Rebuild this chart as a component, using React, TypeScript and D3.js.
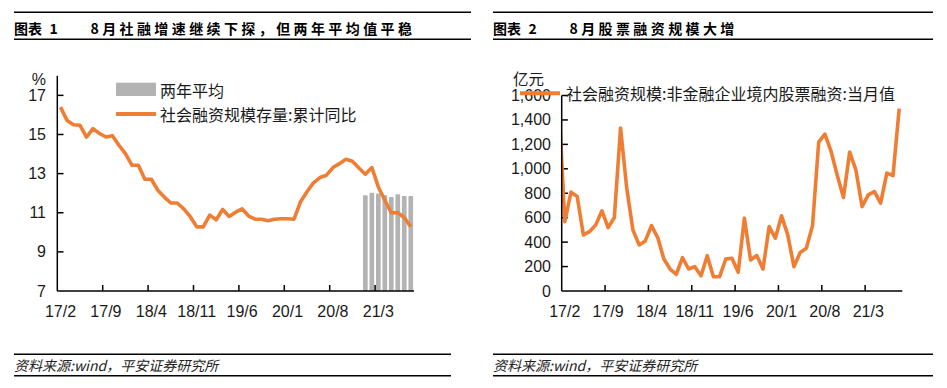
import React from "react";
import * as d3 from "d3";

// ---------- data ----------
const months = [
  "17/2","17/3","17/4","17/5","17/6","17/7","17/8","17/9","17/10","17/11","17/12",
  "18/1","18/2","18/3","18/4","18/5","18/6","18/7","18/8","18/9","18/10","18/11","18/12",
  "19/1","19/2","19/3","19/4","19/5","19/6","19/7","19/8","19/9","19/10","19/11","19/12",
  "20/1","20/2","20/3","20/4","20/5","20/6","20/7","20/8","20/9","20/10","20/11","20/12",
  "21/1","21/2","21/3","21/4","21/5","21/6","21/7","21/8",
];
const tickLabels = ["17/2", "17/9", "18/4", "18/11", "19/6", "20/1", "20/8", "21/3"];

// 社会融资规模存量:累计同比 (%)
const ssfStockYoY = [
  16.4, 15.72, 15.5, 15.47, 14.87, 15.3, 15.05, 14.87, 14.94, 14.45, 14.02,
  13.43, 13.43, 12.71, 12.71, 12.15, 11.8, 11.5, 11.5, 11.2, 10.8, 10.28, 10.28,
  10.88, 10.64, 11.17, 10.81, 11.03, 11.2, 10.83, 10.67, 10.67, 10.59, 10.67, 10.69,
  10.69, 10.67, 11.56, 12.07, 12.53, 12.8, 12.92, 13.31, 13.51, 13.73, 13.63, 13.29,
  12.97, 13.31, 12.32, 11.64, 11.0, 11.0, 10.76, 10.28,
];
// 两年平均 (%)
const twoYearMonths = ["21/1", "21/2", "21/3", "21/4", "21/5", "21/6", "21/7", "21/8"];
const twoYearAvg = [11.9, 12.02, 11.98, 11.9, 11.81, 11.95, 11.85, 11.85];

// 非金融企业境内股票融资:当月值 (亿元)
const equityPrevMonth = 1570; // 17/1, off the left edge of the axis
const equityMonthly = [
  568, 809, 773, 459, 486, 541, 656, 519, 601, 1334, 842,
  500, 377, 410, 535, 437, 262, 180, 137, 273, 180, 199, 125,
  289, 117, 117, 262, 268, 153, 596, 254, 290, 180, 527, 432,
  615, 459, 199, 314, 350, 535, 1219, 1284, 1142, 945, 765, 1137,
  992, 691, 787, 814, 719, 965, 945, 1492,
];

const leftYTicks = [7, 9, 11, 13, 15, 17];
const rightYTicks = [0, 200, 400, 600, 800, 1000, 1200, 1400, 1600];

// ---------- style ----------
const ORANGE = "#EF7D33";
const GREY = "#B3B3B3";
const CJK = "'Noto Sans CJK SC', 'Noto Sans', sans-serif";
const NUM = "'Liberation Sans', Arial, sans-serif";
const TXT = "#1a1a1a";

function fmt(v: number) {
  return d3.format(",")(v);
}

function Header({ x0, x1, num, title }: { x0: number; x1: number; num: string; title: string }) {
  return (
    <g>
      <line x1={x0} x2={x1} y1={12.3} y2={12.3} stroke="#000" strokeWidth={1.5} />
      <line x1={x0} x2={x1} y1={39.3} y2={39.3} stroke="#000" strokeWidth={1.5} />
      <text x={x0} y={27.5} fontFamily={CJK} fontWeight="bold" fontSize={14} dominantBaseline="central" fill="#000">图表</text>
      <text x={x0 + 35.5} y={27.5} fontFamily={CJK} fontWeight="bold" fontSize={14} dominantBaseline="central" fill="#000">{num}</text>
      <text x={x0 + 76.5} y={27.5} fontFamily={CJK} fontWeight="bold" fontSize={14} letterSpacing={3.4} dominantBaseline="central" fill="#000">{title}</text>
    </g>
  );
}

function Footer({ x0, x1 }: { x0: number; x1: number }) {
  return (
    <g>
      <line x1={x0} x2={x1} y1={354.3} y2={354.3} stroke="#000" strokeWidth={1.5} />
      <line x1={x0} x2={x1} y1={375.7} y2={375.7} stroke="#000" strokeWidth={1.5} />
      <text x={x0} y={365} fontFamily={CJK} fontStyle="italic" fontSize={14} dominantBaseline="central" fill="#222">
        资料来源:wind，平安证券研究所
      </text>
    </g>
  );
}

function LeftChart() {
  const x = d3.scaleBand<string>().domain(months).range([57.3, 414]);
  const bw = x.bandwidth();
  const y = d3.scaleLinear().domain([7, 18]).range([291, 75.8]);
  const line = d3
    .line<number>()
    .x((_, i) => (x(months[i]) as number) + bw / 2)
    .y((d) => y(d));
  return (
    <g>
      {twoYearMonths.map((m, j) => (
        <rect
          key={m}
          x={(x(m) as number) + bw * 0.14}
          width={bw * 0.72}
          y={y(twoYearAvg[j])}
          height={y(7) - y(twoYearAvg[j])}
          fill={GREY}
          rx={1}
        />
      ))}
      <path d={line(ssfStockYoY) || ""} fill="none" stroke={ORANGE} strokeWidth={3.6} strokeLinejoin="round" />
      {/* axes */}
      <line x1={57.3} x2={57.3} y1={y(18)} y2={y(7)} stroke="#000" strokeWidth={1.5} />
      <line x1={57.3} x2={414} y1={y(7)} y2={y(7)} stroke="#000" strokeWidth={1.5} />
      {leftYTicks.map((t) => (
        <g key={t}>
          {t > 7 && <line x1={57.3} x2={63.5} y1={y(t)} y2={y(t)} stroke="#000" strokeWidth={1.5} />}
          <text x={46} y={y(t)} textAnchor="end" dominantBaseline="central" fontFamily={NUM} fontSize={16} fill={TXT}>
            {t}
          </text>
        </g>
      ))}
      <text x={46} y={79} textAnchor="end" dominantBaseline="central" fontFamily={NUM} fontSize={16} fill={TXT}>%</text>
      {tickLabels.map((l, k) => (
        <g key={l}>
          {k > 0 && <line x1={x(l) as number} x2={x(l) as number} y1={y(7)} y2={y(7) - 6} stroke="#000" strokeWidth={1.5} />}
          <text x={(x(l) as number) + bw / 2} y={311.5} textAnchor="middle" dominantBaseline="central" fontFamily={NUM} fontSize={16} fill={TXT}>
            {l}
          </text>
        </g>
      ))}
      {/* legend */}
      <rect x={116} y={82.7} width={40} height={13.3} fill={GREY} />
      <text x={160} y={89.5} dominantBaseline="central" fontFamily={CJK} fontSize={16} fill={TXT}>两年平均</text>
      <line x1={116} x2={156} y1={114} y2={114} stroke={ORANGE} strokeWidth={4} />
      <text x={160} y={114} dominantBaseline="central" fontFamily={CJK} fontSize={16} fill={TXT}>社会融资规模存量:累计同比</text>
    </g>
  );
}

function RightChart() {
  const x = d3.scaleBand<string>().domain(months).range([561.7, 902.3]);
  const bw = x.bandwidth();
  const y = d3.scaleLinear().domain([0, 1600]).range([291, 95.5]);
  const pts: [number, number][] = [
    [(x(months[0]) as number) - bw / 2, y(equityPrevMonth)],
    ...equityMonthly.map((v, i) => [(x(months[i]) as number) + bw / 2, y(v)] as [number, number]),
  ];
  const line = d3.line();
  return (
    <g>
      <defs>
        <clipPath id="rclip">
          <rect x={561.7} y={60} width={902.3 - 561.7 + 6} height={240} />
        </clipPath>
      </defs>
      {/* axis labels */}
      {rightYTicks.map((t) => (
        <g key={t}>
          {t > 0 && <line x1={561.7} x2={567.9} y1={y(t)} y2={y(t)} stroke="#000" strokeWidth={1.5} />}
          <text x={551} y={y(t)} textAnchor="end" dominantBaseline="central" fontFamily={NUM} fontSize={16} fill={TXT}>
            {fmt(t)}
          </text>
        </g>
      ))}
      <text x={513} y={78} dominantBaseline="central" fontFamily={CJK} fontSize={15.5} fill={TXT}>亿元</text>
      <path d={line(pts) || ""} fill="none" stroke={ORANGE} strokeWidth={3.6} strokeLinejoin="round" clipPath="url(#rclip)" />
      <line x1={561.7} x2={561.7} y1={y(1600)} y2={y(0)} stroke="#000" strokeWidth={1.5} />
      <line x1={561.7} x2={902.3} y1={y(0)} y2={y(0)} stroke="#000" strokeWidth={1.5} />
      {tickLabels.map((l, k) => (
        <g key={l}>
          {k > 0 && <line x1={x(l) as number} x2={x(l) as number} y1={y(0)} y2={y(0) - 6} stroke="#000" strokeWidth={1.5} />}
          <text x={(x(l) as number) + bw / 2} y={311.5} textAnchor="middle" dominantBaseline="central" fontFamily={NUM} fontSize={16} fill={TXT}>
            {l}
          </text>
        </g>
      ))}
      {/* legend */}
      <line x1={520} x2={560} y1={93.3} y2={93.3} stroke={ORANGE} strokeWidth={4} />
      <text x={566} y={93} dominantBaseline="central" fontFamily={CJK} fontSize={16} fill={TXT}>
        社会融资规模:非金融企业境内股票融资:当月值
      </text>
    </g>
  );
}

export default function App() {
  return (
    <svg
      width={947}
      height={388}
      viewBox="0 0 947 388"
      style={{ position: "absolute", left: 0, top: 0, background: "#fff" }}
    >
      <rect width={947} height={388} fill="#fff" />
      <Header x0={14} x1={471} num="1" title="8月社融增速继续下探，但两年平均值平稳" />
      <Header x0={493} x1={933} num="2" title="8月股票融资规模大增" />
      <LeftChart />
      <RightChart />
      <Footer x0={14} x1={451} />
      <Footer x0={493} x1={933} />
    </svg>
  );
}
